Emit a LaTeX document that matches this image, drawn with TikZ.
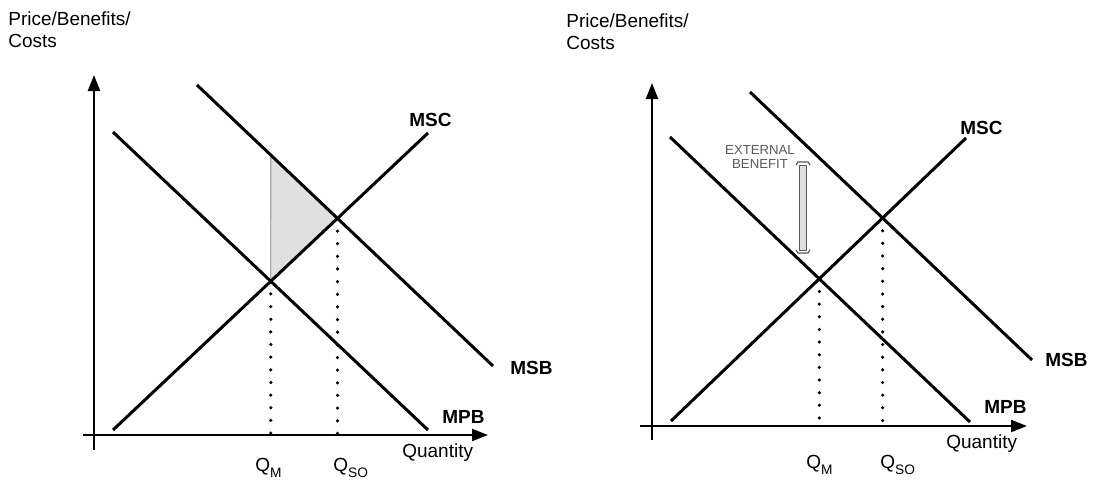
\documentclass[tikz,border=0pt]{standalone}
\usepackage{fontspec}
\setmainfont{Liberation Sans}
\usetikzlibrary{arrows.meta}
\usetikzlibrary{calc}
\usetikzlibrary{positioning}
\definecolor{shade-gray}{gray}{0.88}
\definecolor{note-gray}{gray}{0.35}

\tikzset{
  curve/.style={line width=1.7pt},
  axis/.style={line width=1.3pt},
  axisarrow/.style={axis, -{Triangle[length=0.32cm,width=0.24cm]}},
  guide/.style={line width=2pt, dash pattern=on 0pt off 7.2pt, line cap=round},
  lbl/.style={font=\fontsize{10.8}{13}\selectfont, inner sep=0pt},
  curvelbl/.style={font=\fontsize{10.8}{13}\selectfont\bfseries, inner sep=0pt, anchor=base west},
}
\newcommand{\qsub}[1]{Q\raisebox{-0.65ex}{\fontsize{7.8}{8}\selectfont #1}}

\begin{document}
\begin{tikzpicture}[x=0.02cm, y=-0.02cm]
\useasboundingbox (0,0) rectangle (1093,481);

% ---------------------------------------------------
% Left panel: external cost
\coordinate (yA1) at (94,450);
\coordinate (yB1) at (94,75);
\coordinate (xA1) at (83,435);
\coordinate (xB1) at (488,435);
\coordinate (mpbA1) at (113,132);
\coordinate (mpbB1) at (428,430);
\coordinate (mscA1) at (113,430);
\coordinate (mscB1) at (428,133);
\coordinate (msbA1) at (197,85);
\coordinate (msbB1) at (493,366);
% Equilibria
\coordinate (eqM1) at (intersection of mpbA1--mpbB1 and mscA1--mscB1);
\coordinate (eqSO1) at (intersection of msbA1--msbB1 and mscA1--mscB1);
\coordinate (footM1) at (eqM1 |- xA1);
\coordinate (footSO1) at (eqSO1 |- xA1);
\coordinate (top1) at (intersection of msbA1--msbB1 and eqM1--footM1);
% Welfare loss
\fill[shade-gray] (top1) -- (eqM1) -- (eqSO1) -- cycle;
\draw[gray!60, line width=0.8pt] (top1) -- (eqM1);
% Axes
\draw[axisarrow] (yA1) -- (yB1);
\draw[axisarrow] (xA1) -- (xB1);
% Curves
\draw[curve] (mpbA1) -- (mpbB1);
\draw[curve] (mscA1) -- (mscB1);
\draw[curve] (msbA1) -- (msbB1);
\draw[guide] (eqM1) -- (footM1);
\draw[guide] (eqSO1) -- (footSO1);
% Labels
\node[lbl, anchor=north west, align=left] (ylab1) at (8,11) {Price/Benefits/\\Costs};
\node[lbl, anchor=base west] (xlab1) at (402,457) {Quantity};
\node[curvelbl] (msc1) at (409,126) {MSC};
\node[curvelbl] (msb1) at (510,374) {MSB};
\node[curvelbl] (mpb1) at (442,423) {MPB};
\node[lbl, anchor=base west] (qm1) at (255,471) {\qsub{M}};
\node[lbl, anchor=base west] (qso1) at (333,471) {\qsub{SO}};

% ---------------------------------------------------
% Right panel: external benefit
\coordinate (yA2) at (652,440);
\coordinate (yB2) at (652,83);
\coordinate (xA2) at (640,426);
\coordinate (xB2) at (1027,426);
\coordinate (mpbA2) at (670,137);
\coordinate (mpbB2) at (970,422);
\coordinate (mscA2) at (671,421);
\coordinate (mscB2) at (966,138);
\coordinate (msbA2) at (750,92);
\coordinate (msbB2) at (1032,360);
% Equilibria
\coordinate (eqM2) at (intersection of mpbA2--mpbB2 and mscA2--mscB2);
\coordinate (eqSO2) at (intersection of msbA2--msbB2 and mscA2--mscB2);
\coordinate (footM2) at (eqM2 |- xA2);
\coordinate (footSO2) at (eqSO2 |- xA2);
% Axes
\draw[axisarrow] (yA2) -- (yB2);
\draw[axisarrow] (xA2) -- (xB2);
% Curves
\draw[curve] (mpbA2) -- (mpbB2);
\draw[curve] (mscA2) -- (mscB2);
\draw[curve] (msbA2) -- (msbB2);
\draw[guide] (eqM2) -- (footM2);
\draw[guide] (eqSO2) -- (footSO2);
% External benefit bar
\coordinate (barT) at (803,162);
\coordinate (barB) at (803,253);
\filldraw[fill=gray!25, draw=note-gray, line width=0.5pt]
  ($(barT)+(-3.5,3)$) rectangle ($(barB)+(3.5,-3)$);
\draw[note-gray, line width=0.7pt] ($(barT)+(-7,3)$) -- ($(barT)+(-5,0)$) -- ($(barT)+(5,0)$) -- ($(barT)+(7,3)$);
\draw[note-gray, line width=0.7pt] ($(barB)+(-7,-3)$) -- ($(barB)+(-5,0)$) -- ($(barB)+(5,0)$) -- ($(barB)+(7,-3)$);
% Labels
\node[lbl, anchor=north west, align=left] (ylab2) at (566,13) {Price/Benefits/\\Costs};
\node[lbl, anchor=base west] (xlab2) at (946,448) {Quantity};
\node[curvelbl] (msc2) at (960,134) {MSC};
\node[curvelbl] (msb2) at (1045,366) {MSB};
\node[curvelbl] (mpb2) at (984,413) {MPB};
\node[lbl, anchor=base west] (qm2) at (806,468) {\qsub{M}};
\node[lbl, anchor=base west] (qso2) at (880,468) {\qsub{SO}};
\node[inner sep=0pt, align=center, text=note-gray, font=\fontsize{7.5}{8.2}\selectfont]
  (extb) at (760,157) {EXTERNAL\\BENEFIT};
% ---------------------------------------------------
\end{tikzpicture}
\end{document}
